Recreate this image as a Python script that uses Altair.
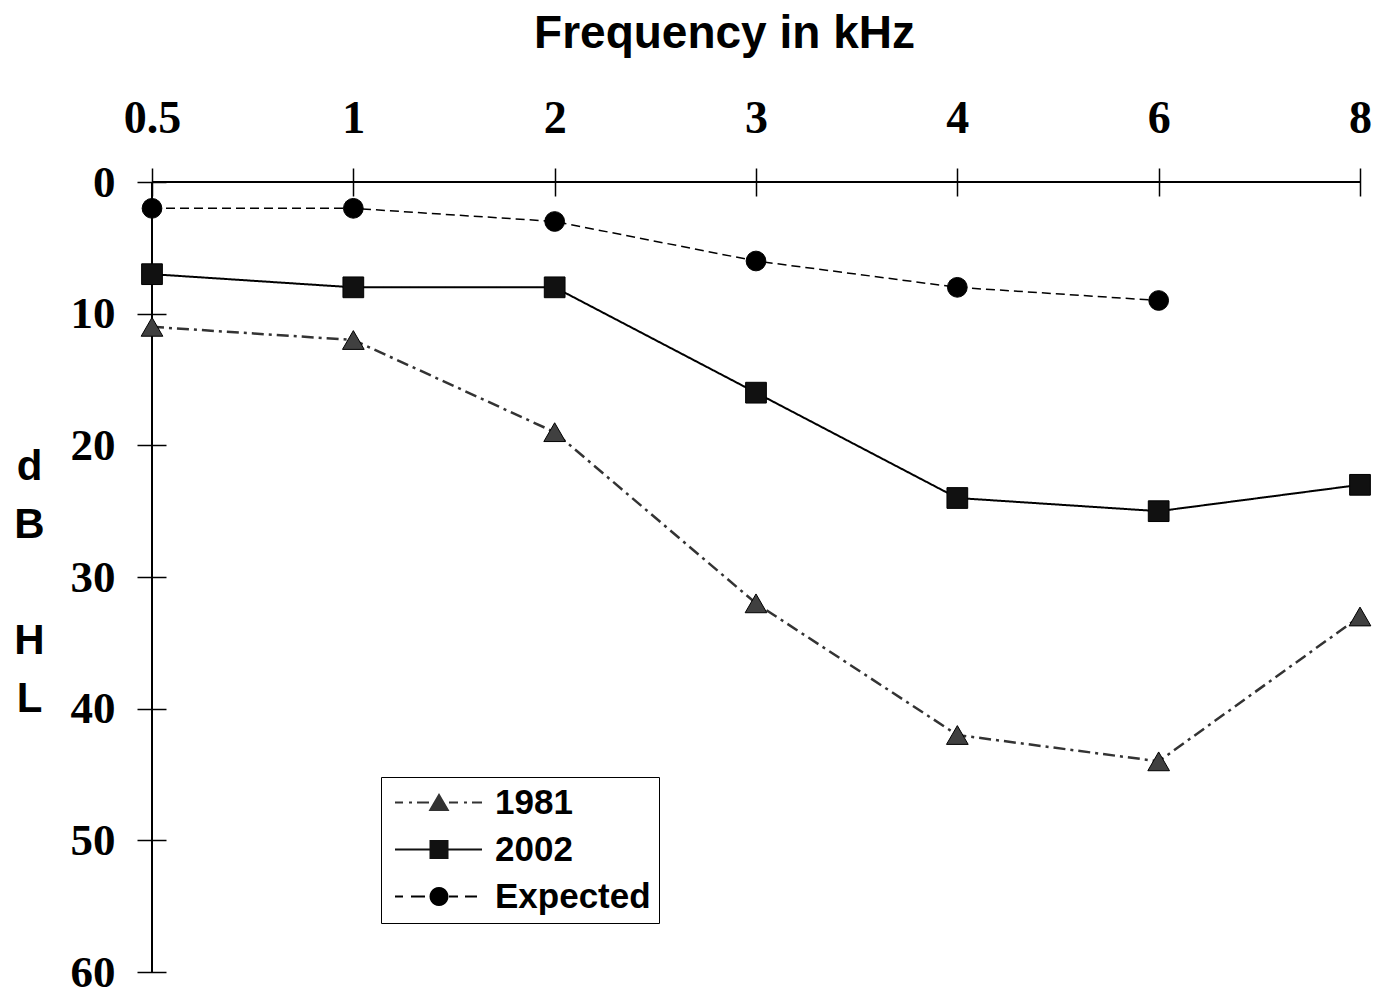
import math
import altair as alt
import pandas as pd

freqs = ["0.5", "1", "2", "3", "4", "6", "8"]
series_names = ["1981", "2002", "Expected"]
v1981 = [11, 12, 19, 32, 42, 44, 33]
v2002 = [7, 8, 8, 16, 24, 25, 23]
vexp = [2, 2, 3, 6, 8, 9]

rows = []
for name, vals in zip(series_names, [v1981, v2002, vexp]):
    for f, v in zip(freqs, vals):
        rows.append({"freq": f, "dB": v, "series": name})
df = pd.DataFrame(rows)

# legend symbols: line segments (thin filled bars) + marker, as custom SVG paths in symbol units
SYM_W = 34.0          # legend symbol column width (px)
U = SYM_W / 2         # px per symbol unit
SHIFT = 32.5          # drawn symbol is shifted right of the column centre
def P(x, y):
    return f"{(x + SHIFT) / U:.4f},{y / U:.4f}"
def bar(a, b, h=0.9):
    return f"M{P(a, -h)}L{P(b, -h)}L{P(b, h)}L{P(a, h)}Z"
tri = f"M{P(0, -9.5)}L{P(10.5, 8.5)}L{P(-10.5, 8.5)}Z"
sq = f"M{P(-9.5, -9.5)}L{P(9.5, -9.5)}L{P(9.5, 9.5)}L{P(-9.5, 9.5)}Z"
circ_pts = [P(9.5 * math.cos(2 * math.pi * k / 24), 9.5 * math.sin(2 * math.pi * k / 24)) for k in range(24)]
circ = "M" + "L".join(circ_pts) + "Z"
path1981 = "".join([bar(-44, -36), bar(-30, -27), bar(-22, -10), bar(10, 19), bar(25, 28), bar(33, 43)]) + tri
path2002 = bar(-44, 43) + sq
pathExp = "".join([bar(-44, -36), bar(-28, -14), bar(10, 19), bar(26, 38)]) + circ

x_enc = alt.X("freq:N", sort=freqs, scale=alt.Scale(type="point", padding=0),
              axis=alt.Axis(orient="top", offset=-14, tickSize=28, tickWidth=1.5, tickColor="black",
                            domain=False, grid=False, labelAngle=0, labelAlign="center",
                            labelFont="Liberation Serif", labelFontWeight="bold", labelFontSize=46,
                            labelColor="black", labelPadding=36, labelBaseline="alphabetic",
                            title="Frequency in kHz", titleFont="Liberation Sans", titleFontWeight="bold",
                            titleFontSize=46, titleColor="black", titleX=572, titleY=-149,
                            titleAlign="center", titleBaseline="alphabetic"))
y_enc = alt.Y("dB:Q", scale=alt.Scale(domain=[0, 60], reverse=True, nice=False),
              axis=alt.Axis(orient="left", offset=-14, tickSize=29, tickWidth=1.5, tickColor="black",
                            domain=False, grid=False, values=[0, 10, 20, 30, 40, 50, 60],
                            labelFont="Liberation Serif", labelFontWeight="bold", labelFontSize=45,
                            labelColor="black", labelPadding=22,
                            title=["d", "B", "\u200b", "H", "L"], titleAngle=0, titleFont="Liberation Sans",
                            titleFontWeight="bold", titleFontSize=42, titleColor="black",
                            titleLineHeight=58, titleX=-137, titleY=284, titleAlign="center",
                            titleBaseline="middle"))

base = alt.Chart(df)

lines = base.mark_line().encode(
    x=x_enc, y=y_enc,
    color=alt.Color("series:N", scale=alt.Scale(domain=series_names, range=["#333333", "#000000", "#000000"]), legend=None),
    strokeDash=alt.StrokeDash("series:N", scale=alt.Scale(domain=series_names, range=[[12, 5, 3, 5], [1, 0], [9, 5]]), legend=None),
    strokeWidth=alt.StrokeWidth("series:N", scale=alt.Scale(domain=series_names, range=[2.5, 1.5, 1.6]), legend=None),
)

points = base.mark_point(filled=True, opacity=1, stroke="black", strokeWidth=1).encode(
    x=x_enc, y=y_enc,
    shape=alt.Shape("series:N", scale=alt.Scale(domain=series_names, range=["triangle-up", "square", "circle"]), legend=None),
    fill=alt.Fill("series:N", scale=alt.Scale(domain=series_names, range=["#404040", "#111111", "#000000"]), legend=None),
    size=alt.Size("series:N", scale=alt.Scale(domain=series_names, range=[470, 390, 330]), legend=None),
)

SYM = SYM_W ** 2
leg = alt.Legend(orient="none", legendX=229, legendY=595, title=None, strokeColor="black",
                 fillColor="white", padding=8, rowPadding=11, labelFont="Liberation Sans",
                 labelFontWeight="bold", labelFontSize=35, labelColor="black", labelOffset=71,
                 labelLimit=400, symbolSize=SYM, symbolStrokeWidth=0, symbolOpacity=1, symbolOffset=0)

legend_layer = base.mark_point(filled=True, opacity=0, size=SYM, strokeWidth=0).encode(
    shape=alt.Shape("series:N", scale=alt.Scale(domain=series_names, range=[path1981, path2002, pathExp]), legend=leg),
    fill=alt.Fill("series:N", scale=alt.Scale(domain=series_names, range=["#333333", "#111111", "#000000"]), legend=leg),
)

xline = alt.Chart(df).mark_rule(color="black", strokeWidth=1.5).encode(y=alt.datum(0))
yline = alt.Chart(df).mark_rule(color="black", strokeWidth=1.5).encode(x=alt.datum("0.5"))

chart = alt.layer(xline, yline, lines, points, legend_layer).resolve_scale(
    shape="independent", fill="independent", size="independent",
    strokeDash="independent", color="independent", strokeWidth="independent"
).resolve_legend(
    shape="independent", fill="independent"
).properties(
    width=1208, height=790,
    autosize=alt.AutoSizeParams(type="none"),
    padding={"left": 144, "top": 174, "right": 13, "bottom": 16},
    background="white",
).configure_view(stroke=None)

chart.save("out.html", embed_options={"renderer": "svg", "actions": False})
